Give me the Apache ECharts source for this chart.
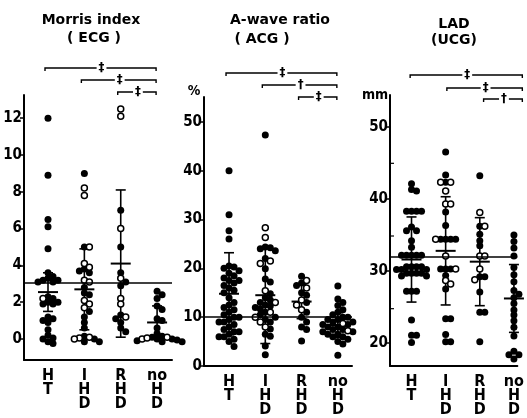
<!DOCTYPE html>
<html><head><meta charset="utf-8">
<script src="https://cdn.jsdelivr.net/npm/echarts@6/dist/echarts.min.js"></script>
<style>html,body{margin:0;padding:0;background:#fff}#c{width:527px;height:418px}</style>
</head><body><div id="c"></div>
<script>
// ---------- data ----------
const categories = ['H\nT', 'I\nH\nD', 'R\nH\nD', 'no\nH\nD'];

// Morris index (ECG): filled = closed circles, hollow = open circles; per group HT, IHD, RHD, noHD
const morrisFilled = [
  [12, 8.9, 6.5, 6.1, 4.9, 3.6, 3.4, 3.3, 3.2, 3.2, 3.1, 3.1, 2.3, 2.2, 2.0, 2.0, 1.9, 1.9, 1.2, 1.1, 1.0, 0.9, 0.5, 0.2, 0.05, 0, -0.15, -0.25],
  [9.0, 5.0, 3.8, 3.7, 3.6, 2.8, 2.5, 2.4, 1.5, 1.2, 0.9, 0.6, 0.15, 0, -0.15, -0.15],
  [7.0, 5.0, 3.6, 3.1, 2.9, 1.3, 1.1, 0.9, 0.6, 0.4],
  [2.6, 2.4, 2.2, 1.8, 1.6, 1.1, 1.0, 0.6, 0.3, 0.15, 0.1, 0, 0, -0.05, -0.1, -0.15, -0.15]
];
const morrisHollow = [
  [2.2],
  [8.2, 7.8, 5.0, 4.1, 3.9, 3.2, 3.1, 2.1, 1.9, 1.7, 0.05, 0, 0.1],
  [12.5, 12.1, 6.0, 3.3, 2.2, 1.9, 1.2],
  [0, 0.05, 0.1]
];
const morrisMean = [2.55, 2.7, 4.1, 0.9];
const morrisSD = [1.05, 2.2, 4.0, 0.9];
const morrisRef = 3.05;
const morrisTicks = [0, 2, 4, 6, 8, 10, 12];

// A-wave ratio (ACG), %
const awaveFilled = [
  [40, 31, 27.7, 26, 20.5, 20.3, 20, 19.5, 19, 18.5, 18, 17.5, 17.5, 17, 16.5, 16, 15.5, 15, 14, 13, 12.5, 12, 11.5, 11, 10.5, 10, 10, 9.5, 9, 9, 8.5, 8, 7.5, 7, 7, 6.5, 6, 6, 5.5, 5, 4],
  [47.3, 24.4, 24.2, 24, 23.6, 22, 19.9, 17.8, 17.2, 14.8, 14, 13.5, 13, 12.5, 12.3, 12, 11.7, 11, 10.5, 10, 9.5, 9, 7.6, 6.5, 6.1, 4.1, 2.3],
  [18.4, 17, 16.5, 15, 14.5, 13, 11, 10, 9, 8, 7.5, 5.1],
  [16.4, 13.7, 13, 12.4, 11.5, 11, 10.5, 10, 10, 9.5, 9.5, 9, 9, 8.5, 8.5, 8, 8, 7.5, 7.5, 7, 7, 6.5, 6.5, 6, 6, 5.5, 5, 4.5, 2.2]
];
const awaveHollow = [
  [],
  [28.3, 26.3, 21.5, 21, 15.4, 13, 11, 10, 9, 8],
  [17.5, 16, 13.5, 12.5, 11.5],
  [8.7, 7.2]
];
const awaveMean = [14.8, 14.5, 13.2, 8.4];
const awaveSD = [8.4, 9.9, 3.5, 2.5];
const awaveRef = 10;
const awaveTicks = [0, 10, 20, 30, 40, 50];

// LAD (UCG), mm
const ladFilled = [
  [42.1, 41.3, 41.1, 38.3, 38.3, 38.3, 38.3, 36.1, 35.6, 35.6, 34.2, 33.3, 32.2, 32.2, 32.2, 32.2, 32.2, 30.6, 30.6, 30.6, 30.6, 30.2, 30.2, 30.2, 29.7, 29.7, 29.7, 29.7, 29.3, 29.3, 27.2, 27.2, 27.2, 23.2, 21.1, 21.1, 20.1],
  [46.5, 43.3, 42.3, 38.2, 36.3, 34.4, 34.4, 34.4, 34.4, 30.3, 30.3, 30.3, 29.4, 27.5, 23.4, 23.4, 21.2, 20.2, 20.2],
  [43.2, 36.2, 35.1, 34.2, 33.5, 29.2, 29.2, 27.1, 24.3, 24.3, 20.2],
  [35, 34.1, 33.2, 32.1, 30.5, 29.5, 28.5, 27.3, 26.8, 26.3, 25.5, 24.6, 23.9, 23.1, 22.2, 21, 18.9, 18.4, 18.4, 17.8]
];
const ladHollow = [
  [],
  [42.3, 42.3, 41.1, 39.3, 39.3, 34.4, 32.1, 30.3, 28.7, 28.2],
  [38.1, 36.2, 32.1, 32.1, 30.3, 28.8],
  []
];
const ladMean = [31.6, 32.8, 31.3, 26.2];
const ladSD = [5.9, 7.5, 6.1, 4.7];
const ladRef = 32;
const ladTicks = [20, 30, 40, 50];
const ladMinorTicks = [25, 35, 45];

// significance brackets: [from group, to group, mark]
const morrisSig = [[0, 3, '\u2021'], [1, 3, '\u2021'], [2, 3, '\u2021']];
const awaveSig = [[0, 3, '\u2021'], [1, 3, '\u2020'], [2, 3, '\u2021']];
const ladSig = [[0, 3, '\u2021'], [1, 3, '\u2021'], [2, 3, '\u2020']];

// ---------- layout ----------
const FONT = "'DejaVu Sans Condensed', 'DejaVu Sans', sans-serif";
const TFONT = "'DejaVu Sans', sans-serif";
const panels = [
  { grid: { left: 24, top: 95, width: 148, height: 265 }, xMin: -0.66, xMax: 3.41, yMin: -1.14, yMax: 13.26,
    filled: morrisFilled, hollow: morrisHollow, mean: morrisMean, sd: morrisSD, ref: morrisRef, ticks: morrisTicks,
    sig: morrisSig, sigY: [68, 80, 92],
    title: ['Morris index', 91, 13], sub: ['( ECG )', 94, 31] },
  { grid: { left: 204, top: 97, width: 148, height: 269 }, xMin: -0.69, xMax: 3.39, yMin: 0, yMax: 55.1,
    filled: awaveFilled, hollow: awaveHollow, mean: awaveMean, sd: awaveSD, ref: awaveRef, ticks: awaveTicks,
    sig: awaveSig, sigY: [73, 85, 97],
    title: ['A-wave ratio', 280, 13], sub: ['( ACG )', 262, 32], unit: ['%', 194, 84] },
  { grid: { left: 390, top: 95, width: 137, height: 273 }, xMin: -0.63, xMax: 3.1, yMin: 16.84, yMax: 54.4,
    filled: ladFilled, hollow: ladHollow, mean: ladMean, sd: ladSD, ref: ladRef, ticks: ladTicks, minor: ladMinorTicks,
    sig: ladSig, sigY: [75, 88, 99],
    title: ['LAD', 454, 17], sub: ['(UCG)', 454, 33], unit: ['mm', 375, 88] }
];

function swarm(filled, hollow, pxPerUnit, step, minDist) {
  const pts = filled.map(v => ({ v, h: false })).concat(hollow.map(v => ({ v, h: true })));
  const sorted = pts.slice().sort((a, b) => b.v - a.v);
  const placed = [];
  sorted.forEach(p => {
    const y = -p.v * pxPerUnit;
    for (let k = 0; k < 40; k++) {
      const dx = k === 0 ? 0 : (k % 2 ? 1 : -1) * Math.ceil(k / 2) * step;
      if (placed.every(q => (q.dx - dx) ** 2 + (q.y - y) ** 2 >= minDist * minDist - 0.01)) {
        p.dx = dx; placed.push({ dx, y }); break;
      }
    }
  });
  return pts;
}

const grids = [], xAxes = [], yAxes = [], series = [], graphics = [];
panels.forEach((P, i) => {
  grids.push(P.grid);
  const pxY = P.grid.height / (P.yMax - P.yMin);
  const pxX = P.grid.width / (P.xMax - P.xMin);
  const yPx = v => P.grid.top + (P.yMax - v) * pxY;
  xAxes.push({
    type: 'value', gridIndex: i, min: P.xMin, max: P.xMax,
    axisLine: { show: true, onZero: false, lineStyle: { color: '#000', width: 2 } },
    axisTick: { show: false }, splitLine: { show: false },
    axisLabel: { customValues: [0, 1, 2, 3], formatter: v => categories[Math.round(v)], color: '#000',
      fontFamily: FONT, fontWeight: 'bold', fontSize: 16, lineHeight: 14, margin: 9, verticalAlign: 'top', align: 'center' }
  });
  yAxes.push({
    type: 'value', gridIndex: i, min: P.yMin, max: P.yMax,
    axisLine: { show: true, onZero: false, lineStyle: { color: '#000', width: 2 } },
    axisTick: { show: true, customValues: P.ticks, length: 4, lineStyle: { color: '#000', width: 1.5 } },
    splitLine: { show: false },
    axisLabel: { customValues: P.ticks, color: '#000', fontFamily: FONT, fontWeight: 'bold', fontSize: 15, margin: 2 }
  });
  if (P.minor) {
    P.minor.forEach(v => graphics.push({ type: 'line', shape: { x1: P.grid.left, y1: yPx(v), x2: P.grid.left + 4, y2: yPx(v) },
      style: { stroke: '#000', lineWidth: 1.2 } }));
  }
  // error bars + reference line
  series.push({
    type: 'custom', xAxisIndex: i, yAxisIndex: i, z: 1,
    data: P.mean.map((m, k) => [k, m, P.sd[k]]),
    renderItem: (params, api) => {
      const x = api.value(0), m = api.value(1), s = api.value(2);
      const pm = api.coord([x, m]), pt = api.coord([x, m + s]), pb = api.coord([x, m - s]);
      const st = { stroke: '#000', lineWidth: 1.6 };
      return { type: 'group', children: [
        { type: 'line', shape: { x1: pm[0], y1: pt[1], x2: pm[0], y2: pb[1] }, style: st },
        { type: 'line', shape: { x1: pm[0] - 5, y1: pt[1], x2: pm[0] + 5, y2: pt[1] }, style: st },
        { type: 'line', shape: { x1: pm[0] - 5, y1: pb[1], x2: pm[0] + 5, y2: pb[1] }, style: st },
        { type: 'line', shape: { x1: pm[0] - 10, y1: pm[1], x2: pm[0] + 10, y2: pm[1] }, style: { stroke: '#000', lineWidth: 2 } }
      ] };
    },
    markLine: { silent: true, symbol: 'none', label: { show: false },
      lineStyle: { color: '#000', width: 1.6, type: 'solid', opacity: 1 }, data: [{ yAxis: P.ref }] }
  });
  const filledData = [], hollowData = [];
  P.filled.forEach((arr, k) => {
    swarm(arr, P.hollow[k], pxY, 5, 5).forEach(p => {
      const item = { value: [k, p.v], symbolOffset: [p.dx || 0, 0] };
      (p.h ? hollowData : filledData).push(item);
    });
  });
  series.push({ type: 'scatter', xAxisIndex: i, yAxisIndex: i, z: 3, clip: false, symbol: 'circle', symbolSize: 7,
    itemStyle: { color: '#000', opacity: 1 }, data: filledData, silent: true });
  series.push({ type: 'scatter', xAxisIndex: i, yAxisIndex: i, z: 4, clip: false, symbol: 'circle', symbolSize: 6,
    itemStyle: { color: '#fff', borderColor: '#000', borderWidth: 1.5, opacity: 1 }, data: hollowData, silent: true });

  // titles
  graphics.push({ type: 'text', x: P.title[1], y: P.title[2], style: { text: P.title[0], fill: '#000',
    font: "bold 14px " + TFONT, textAlign: 'center' } });
  graphics.push({ type: 'text', x: P.sub[1], y: P.sub[2], style: { text: P.sub[0], fill: '#000',
    font: "bold 14px " + TFONT, textAlign: 'center' } });
  if (P.unit) graphics.push({ type: 'text', x: P.unit[1], y: P.unit[2], style: { text: P.unit[0], fill: '#000',
    font: "bold 14px " + FONT, textAlign: 'center' } });

  // significance brackets
  const cx = c => P.grid.left + (c - P.xMin) * pxX;
  P.sig.forEach((s, j) => {
    const x1 = cx(s[0]) - 3, x2 = cx(s[1]) - 1, y = P.sigY[j];
    graphics.push({ type: 'polyline', shape: { points: [[x1, y + 3], [x1, y], [x2, y], [x2, y + 3]] },
      style: { stroke: '#000', lineWidth: 1.4, fill: null } });
    graphics.push({ type: 'text', x: (x1 + x2) / 2 + 1, y: y, style: { text: s[2], fill: '#000',
      font: "bold 13px " + FONT, textAlign: 'center', textVerticalAlign: 'middle',
      backgroundColor: '#fff', padding: [0, 2] } });
  });
});

const chart = echarts.init(document.getElementById('c'), null, { renderer: 'canvas' });
chart.setOption({
  animation: false, backgroundColor: '#fff',
  grid: grids, xAxis: xAxes, yAxis: yAxes, series: series, graphic: graphics
});
</script></body></html>
